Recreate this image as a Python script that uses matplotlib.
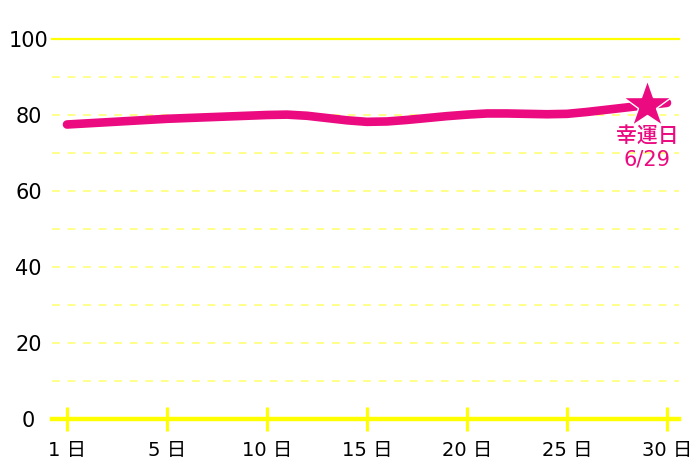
import matplotlib
matplotlib.use('Agg')
import matplotlib.pyplot as plt

plt.rcParams['font.family'] = ['DejaVu Sans', 'Noto Sans CJK JP']

# daily values (position 0 = 1日)
days = list(range(31))
values = [77.5, 77.8, 78.1, 78.4, 78.7, 79.0, 79.2, 79.4, 79.6, 79.8,
          80.0, 80.1, 79.8, 79.2, 78.6, 78.2, 78.3, 78.7, 79.2, 79.7,
          80.1, 80.4, 80.4, 80.3, 80.2, 80.3, 80.8, 81.4, 82.0, 82.6, 83.2]
tick_pos = [0, 5, 10, 15, 20, 25, 30]
tick_labels = ['1 日', '5 日', '10 日', '15 日', '20 日', '25 日', '30 日']
y_ticks = [0, 20, 40, 60, 80, 100]
lucky_idx = 29
lucky_label = '幸運日\n6/29'

pink = '#EB0A80'
yellow = '#FFFF00'

fig = plt.figure(figsize=(7, 4.67), dpi=100)
ax = fig.add_axes([52/700, 48/467, 627/700, 380/467])
ax.set_xlim(-0.75, 30.6)
ax.set_ylim(0, 100)
for s in ax.spines.values():
    s.set_visible(False)

# grid
for g in range(10, 100, 10):
    ax.axhline(g, color='#FFFF88', lw=1.4, ls=(0, (4, 4)), zorder=1)
ax.axhline(100, color=yellow, lw=1.6, zorder=1, clip_on=False)
ax.axhline(0, color=yellow, lw=3.2, zorder=2, clip_on=False)

ax.plot(days, values, color=pink, lw=6.2, solid_capstyle='round', zorder=3)
ax.plot(days[lucky_idx], values[lucky_idx], marker='*', ms=36, color=pink,
        mec='white', mew=1.0, zorder=4)
ax.annotate(lucky_label, (days[lucky_idx], values[lucky_idx]), xytext=(0, -15),
            textcoords='offset points', ha='center', va='top', color=pink,
            fontsize=15, fontweight='medium', linespacing=1.2)

ax.set_xticks(tick_pos)
ax.set_xticklabels(tick_labels, fontsize=14)
ax.tick_params(axis='x', direction='inout', length=17, width=2.2, color=yellow,
               pad=7)
ax.set_yticks(y_ticks)
ax.set_yticklabels([str(v) for v in y_ticks], fontsize=15, ha='center')
ax.tick_params(axis='y', length=0, pad=17)

fig.savefig('out.png', dpi=100)
